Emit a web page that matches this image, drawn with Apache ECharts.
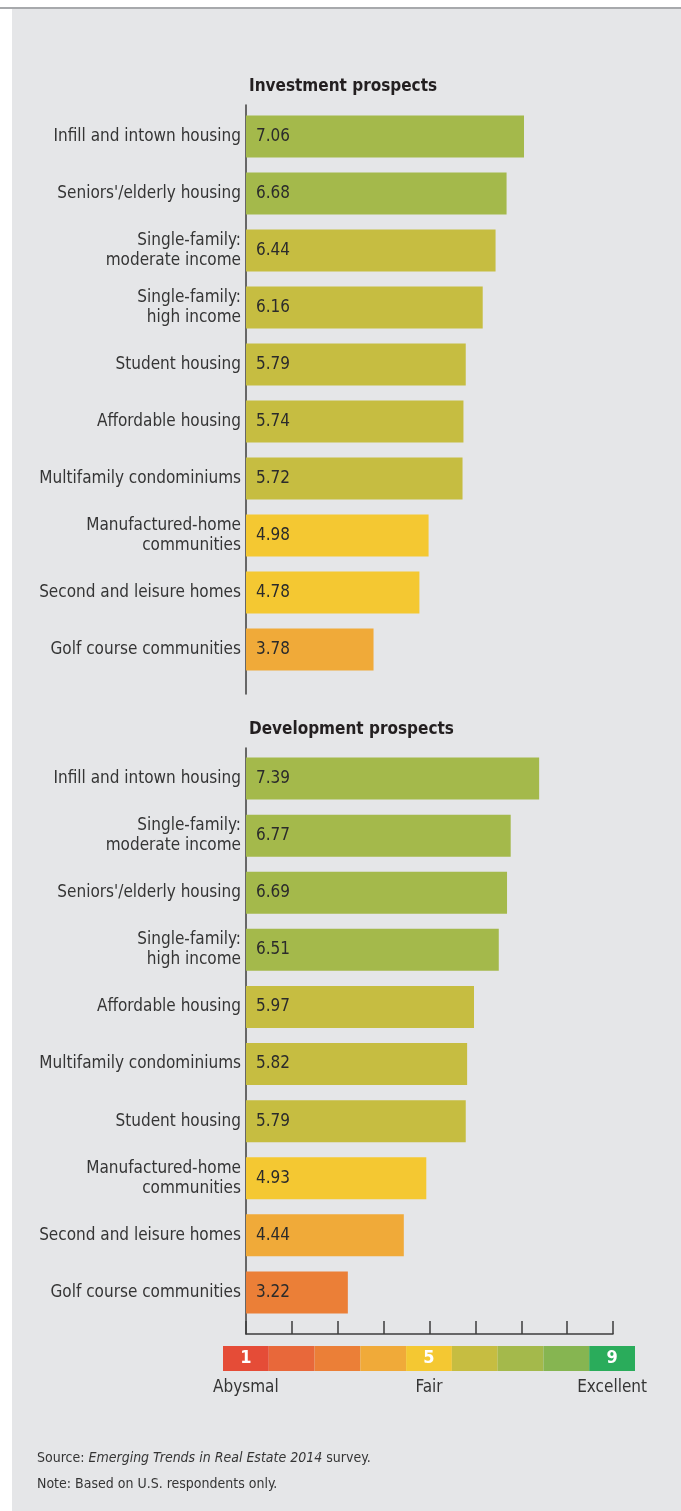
<!DOCTYPE html>
<html>
<head>
<meta charset="utf-8">
<script src="https://cdn.jsdelivr.net/npm/echarts@6/dist/echarts.min.js"></script>
<style>
  html, body { margin: 0; padding: 0; background: #fff; }
  #rule { position: absolute; left: 0; top: 7px; width: 681px; height: 2px; background: #a7a9ac; }
  #panel { position: absolute; left: 12px; top: 9px; width: 669px; height: 1502px; background: #e5e6e8; }
  #chart { position: absolute; left: 0; top: 0; width: 681px; height: 1511px; }
</style>
</head>
<body>
<div id="rule"></div>
<div id="panel"></div>
<div id="chart"></div>
<script>
// 住宅セクター別の見通し（投資・開発）
const investCats = [
  'Infill and intown housing', "Seniors'/elderly housing", 'Single-family:\nmoderate income',
  'Single-family:\nhigh income', 'Student housing', 'Affordable housing',
  'Multifamily condominiums', 'Manufactured-home\ncommunities', 'Second and leisure homes',
  'Golf course communities',
];
const investVals = [7.06, 6.68, 6.44, 6.16, 5.79, 5.74, 5.72, 4.98, 4.78, 3.78];

const devCats = [
  'Infill and intown housing', 'Single-family:\nmoderate income', "Seniors'/elderly housing",
  'Single-family:\nhigh income', 'Affordable housing', 'Multifamily condominiums',
  'Student housing', 'Manufactured-home\ncommunities', 'Second and leisure homes',
  'Golf course communities',
];
const devVals = [7.39, 6.77, 6.69, 6.51, 5.97, 5.82, 5.79, 4.93, 4.44, 3.22];

// 1〜9 の評価スケール
const scaleLevels = [1, 2, 3, 4, 5, 6, 7, 8, 9];
const scaleColors = ['#e54c37', '#e8683a', '#eb7f37', '#f0aa39', '#f4c832', '#c6bd41', '#a4b94b', '#86b551', '#2aac5b'];
const scaleNums = ['1', '', '', '', '5', '', '', '', '9'];
const scaleWords = ['Abysmal', '', '', '', 'Fair', '', '', '', 'Excellent'];

const FONT = "'DejaVu Sans Condensed', 'DejaVu Sans', sans-serif";
const TEXT = '#353535';
const AXIS = '#3c3c3c';
const FS = 17;

const colorFor = (v) => scaleColors[Math.round(v) - 1];

const chart = echarts.init(document.getElementById('chart'), null, { renderer: 'canvas' });

const hiddenValueX = (grid) => ({ type: 'value', gridIndex: grid, min: 1, max: 9, show: false });
const catY = (grid, cats) => ({
  type: 'category', gridIndex: grid, data: cats, inverse: true,
  axisLine: { show: false }, axisTick: { show: false },
  axisLabel: { color: TEXT, fontFamily: FONT, fontSize: FS, lineHeight: 20, margin: 5 },
});
// 縦の軸線はバーの帯より少し長いので、別グリッドで引く
const frameY = (grid) => ({
  type: 'value', gridIndex: grid, min: 0, max: 1,
  axisLine: { show: true, lineStyle: { color: AXIS, width: 1.5 } },
  axisTick: { show: false }, axisLabel: { show: false }, splitLine: { show: false },
});
const barSeries = (idx, vals) => ({
  type: 'bar', xAxisIndex: idx, yAxisIndex: idx, data: vals, barWidth: 42, clip: true,
  itemStyle: { color: (p) => colorFor(p.value) },
  label: {
    show: true, position: 'insideLeft', distance: 10,
    color: '#2b2b2b', fontFamily: FONT, fontSize: FS,
    formatter: (p) => p.value.toFixed(2),
  },
});

chart.setOption({
  animation: false,
  backgroundColor: 'transparent',
  textStyle: { fontFamily: FONT },
  title: [
    { text: 'Investment prospects', left: 249, top: 78, padding: 0,
      textStyle: { fontFamily: FONT, fontSize: FS, fontWeight: 'bold', color: '#231f20' } },
    { text: 'Development prospects', left: 249, top: 721, padding: 0,
      textStyle: { fontFamily: FONT, fontSize: FS, fontWeight: 'bold', color: '#231f20' } },
  ],
  grid: [
    { left: 246, width: 367, top: 108, height: 570 },
    { left: 246, width: 367, top: 750, height: 571 },
    { left: 246, width: 367, top: 105, height: 589 },
    { left: 246, width: 367, top: 748, height: 586 },
    { left: 223, width: 412, top: 1346, height: 25 },
  ],
  xAxis: [
    hiddenValueX(0),
    hiddenValueX(1),
    hiddenValueX(2),
    {
      type: 'value', gridIndex: 3, min: 1, max: 9, interval: 1,
      axisLine: { show: true, lineStyle: { color: AXIS, width: 1.5 } },
      axisTick: { show: true, inside: true, length: 13, lineStyle: { color: AXIS, width: 1.5 } },
      axisLabel: { show: false }, splitLine: { show: false },
    },
    {
      type: 'category', gridIndex: 4, data: scaleWords,
      axisLine: { show: false }, axisTick: { show: false },
      axisLabel: { color: TEXT, fontFamily: FONT, fontSize: FS, margin: 8, interval: 0 },
    },
  ],
  yAxis: [
    catY(0, investCats),
    catY(1, devCats),
    frameY(2),
    frameY(3),
    { type: 'value', gridIndex: 4, min: 0, max: 1, show: false },
  ],
  series: [
    barSeries(0, investVals),
    barSeries(1, devVals),
    {
      type: 'bar', xAxisIndex: 4, yAxisIndex: 4, barWidth: '100%',
      data: scaleLevels.map((lv, i) => ({ value: 1, level: lv, itemStyle: { color: scaleColors[i] } })),
      label: {
        show: true, position: 'inside', color: '#ffffff', fontFamily: FONT,
        fontSize: 18, fontWeight: 'bold',
        formatter: (p) => scaleNums[p.dataIndex],
      },
    },
  ],
  graphic: [
    {
      type: 'text', left: 37, top: 1451,
      style: {
        text: '{n|Source: }{i|Emerging Trends in Real Estate 2014}{n| survey.}',
        rich: {
          n: { fontFamily: FONT, fontSize: 14, fill: TEXT },
          i: { fontFamily: FONT, fontSize: 14, fontStyle: 'italic', fill: TEXT },
        },
      },
    },
    {
      type: 'text', left: 37, top: 1477,
      style: { text: 'Note: Based on U.S. respondents only.', fontFamily: FONT, fontSize: 14, fill: TEXT },
    },
  ],
});

window.addEventListener('resize', () => chart.resize());
</script>
</body>
</html>
